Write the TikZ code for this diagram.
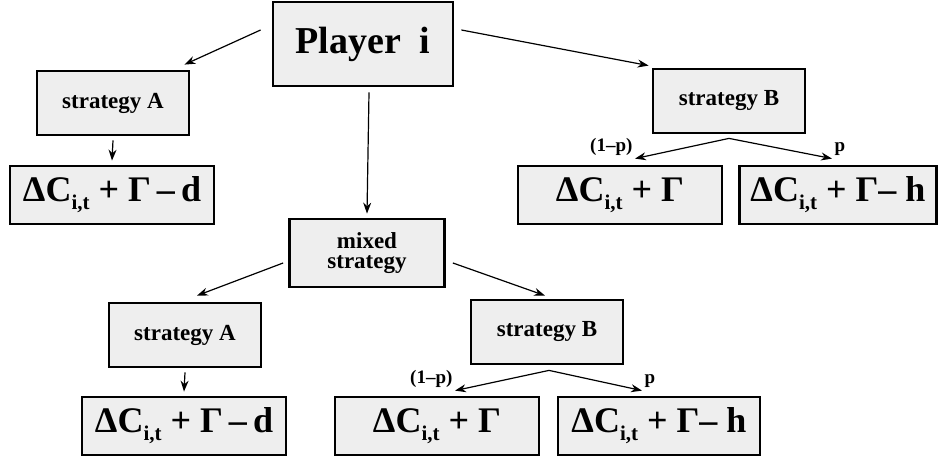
\documentclass[tikz,border=0pt]{standalone}
\usepackage{fontspec}
\setmainfont{Liberation Serif}
\usetikzlibrary{arrows.meta}
\definecolor{boxgray}{RGB}{238,238,238}
\newcommand\cit{\raisebox{-0.5ex}{\fontsize{10.5}{10.5}\selectfont i,t}}
\begin{document}
\begin{tikzpicture}[
  x=0.5pt, y=-0.5pt,
  box/.style={draw, line width=1.4pt, fill=boxgray, inner sep=0pt},
  playerbox/.style={box, minimum width=90pt, minimum height=42pt,
    font=\fontsize{19}{21}\selectfont\bfseries},
  stratbox/.style={box, minimum width=76pt, minimum height=32pt, align=center,
    font=\fontsize{11.5}{12}\selectfont\bfseries},
  payoff/.style={box, minimum width=102pt, minimum height=29pt,
    font=\fontsize{18}{20}\selectfont\bfseries},
  arr/.style={-{Stealth[length=5.5pt,width=4pt]}, line width=0.6pt},
  prob/.style={font=\fontsize{9.5}{10}\selectfont\bfseries, inner sep=1pt}
]
  \useasboundingbox (0,0) rectangle (943,459);

  % top level
  \node[playerbox] (player) at (363,44) {Player\ \ i};

  % pure strategies
  \node[stratbox] (sA) at (113,103) {strategy A};
  \node[stratbox] (sB) at (729,101) {strategy B};
  \node[payoff] (fA) at (112,195) {ΔC\cit\ + Γ\,–\,d};
  \node[payoff] (fB1) at (620,195) {ΔC\cit\ + Γ};
  \node[payoff, minimum width=98.5pt] (fB2) at (838,195) {ΔC\cit\ + Γ– h};

  % mixed strategy
  \node[stratbox, minimum width=77.5pt, minimum height=34pt] (mixed) at (367,253)
    {mixed\\[-2pt]strategy};
  \node[stratbox] (sA2) at (185,335) {strategy A};
  \node[stratbox] (sB2) at (547,332) {strategy B};
  \node[payoff] (fA2) at (184,426) {ΔC\cit\ + Γ\,–\,d};
  \node[payoff] (fB3) at (437,426) {ΔC\cit\ + Γ};
  \node[payoff, minimum width=101pt] (fB4) at (659,426) {ΔC\cit\ + Γ– h};

  % forks under strategy B
  \coordinate (forkB) at ([shift={(0,4)}]sB.south);
  \coordinate (forkB2) at ([shift={(2,5)}]sB2.south);

  % connectors
  \draw[arr] ([shift={(-11,-14)}]player.west) -- ([shift={(-6,-5)}]sA.north east);
  \draw[arr] ([shift={(7,-14)}]player.east) -- ([shift={(-3,-2)}]sB.north west);
  \draw[arr] ([shift={(6,5)}]player.south) -- ([shift={(0,-4)}]mixed.north);
  \draw[arr] ([shift={(0,4)}]sA.south) -- ([shift={(0,-4)}]fA.north);
  \draw[arr] (forkB) -- ([shift={(15,-6)}]fB1.north)
    node[prob, anchor=south east] {(1–p)};
  \draw[arr] (forkB) -- ([shift={(-6,-6)}]fB2.north)
    node[prob, anchor=south west] {p};

  \draw[arr] ([shift={(-5,10)}]mixed.west) -- ([shift={(12,-6)}]sA2.north);
  \draw[arr] ([shift={(7,10)}]mixed.east) -- ([shift={(-2,-3)}]sB2.north);
  \draw[arr] ([shift={(0,4)}]sA2.south) -- ([shift={(0,-4)}]fA2.north);
  \draw[arr] (forkB2) -- ([shift={(18,-5)}]fB3.north)
    node[prob, anchor=south east] {(1–p)};
  \draw[arr] (forkB2) -- ([shift={(-17,-5)}]fB4.north)
    node[prob, anchor=south west] {p};
\end{tikzpicture}
\end{document}
